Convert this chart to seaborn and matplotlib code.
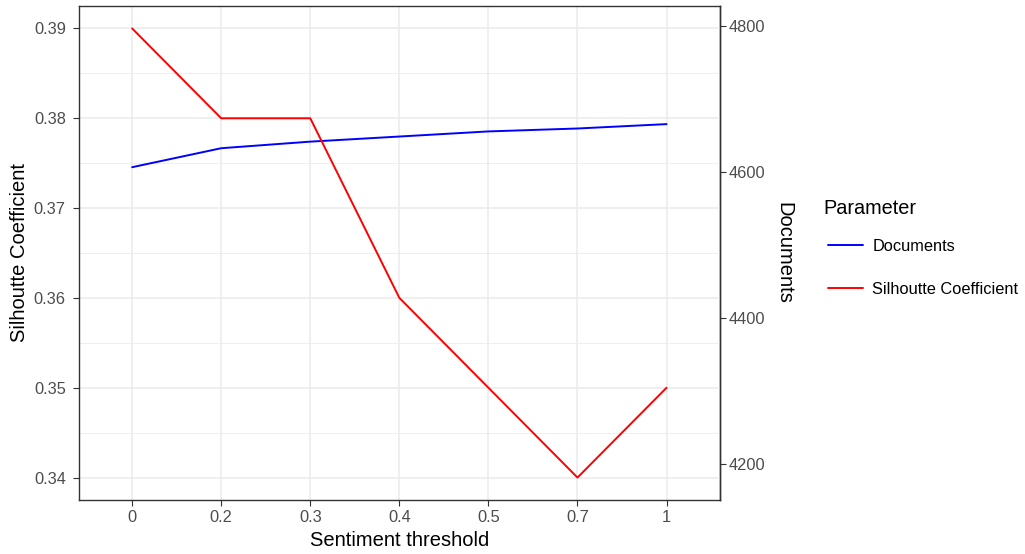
import seaborn as sns
import pandas as pd
import matplotlib.pyplot as plt
import numpy as np

# Data
thresholds = ["0", "0.2", "0.3", "0.4", "0.5", "0.7", "1"]
silhouette = [0.39, 0.38, 0.38, 0.36, 0.35, 0.34, 0.35]
documents = [4607, 4633, 4642, 4649, 4656, 4660, 4666]
doc_scale = 12300  # secondary axis: Documents = Silhouette * 12300

left_ticks = [0.34, 0.35, 0.36, 0.37, 0.38, 0.39]
right_ticks = [4200, 4400, 4600, 4800]

df = pd.DataFrame({
    "pos": list(range(len(thresholds))) * 2,
    "value": [d / doc_scale for d in documents] + silhouette,
    "Parameter": ["Documents"] * len(thresholds) + ["Silhoutte Coefficient"] * len(thresholds),
})

sns.set_theme(style="white")
plt.rcParams['font.family'] = ['Liberation Sans', 'DejaVu Sans']
plt.rcParams['text.color'] = 'black'

W, H = 1025, 554
fig = plt.figure(figsize=(W / 100, H / 100), dpi=100)
ax = fig.add_axes([78.7 / W, 54 / H, (720 - 78.7) / W, (500 - 6) / H])

palette = {"Documents": "#0000FF", "Silhoutte Coefficient": "#FF0000"}
sns.lineplot(data=df, x="pos", y="value", hue="Parameter", palette=palette,
             linewidth=1.4, ax=ax, sort=False)

# grid like theme_bw
ax.set_axisbelow(True)
ax.set_yticks(left_ticks)
ax.set_yticks([t + 0.005 for t in left_ticks[:-1]], minor=True)
ax.set_xticks(range(len(thresholds)))
ax.set_xticklabels(thresholds)
ax.grid(which="major", color="#EBEBEB", linewidth=1.1)
ax.grid(which="minor", axis="y", color="#EBEBEB", linewidth=0.55)
ax.set_xlim(-0.6, len(thresholds) - 1 + 0.6)
ax.set_ylim(0.3375, 0.3925)
ax.set_yticklabels([f"{t:.2f}" for t in left_ticks])

for s in ax.spines.values():
    s.set_color("#333333")
    s.set_linewidth(1.0)

ax.tick_params(axis="both", which="major", length=4.3, width=0.8, color="#333333",
               labelcolor="#4D4D4D", labelsize=11.8)
ax.tick_params(axis="y", which="major", pad=5, left=True)
ax.tick_params(axis="x", which="major", pad=3, bottom=True)
ax.tick_params(which="minor", length=0)

ax.set_xlabel("Sentiment threshold", fontsize=14.5, color="black", va="top")
ax.xaxis.set_label_coords(0.5, -0.063)
ax.set_ylabel("Silhoutte Coefficient", fontsize=14.5, color="black")
ax.yaxis.set_label_coords(-0.0775, 0.5)

# secondary axis for documents
sec = ax.secondary_yaxis("right", functions=(lambda s: s * doc_scale, lambda d: d / doc_scale))
sec.set_yticks(right_ticks)
sec.tick_params(axis="y", length=4.3, width=0.8, color="#333333",
                labelcolor="#4D4D4D", labelsize=11.8, pad=2)
for s in sec.spines.values():
    s.set_color("#333333")
    s.set_linewidth(1.0)
fig.text(784 / W, 1 - 253 / H, "Documents", fontsize=14.5, rotation=270,
         ha="center", va="center", color="black")

# legend outside on the right (title drawn separately so spacing can match)
fig.text(823 / W, 1 - 208 / H, "Parameter", fontsize=14.3, ha="left", va="center",
         color="black")
handles, labels = ax.get_legend_handles_labels()
leg = ax.legend(handles, labels, loc="upper left",
                bbox_to_anchor=(820 / W, 1 - 231 / H), bbox_transform=fig.transFigure,
                frameon=False, borderpad=0, fontsize=11.8,
                handlelength=2.1, handletextpad=0.6, labelspacing=1.7)
for t in leg.get_texts():
    t.set_color("black")

fig.savefig("out.png", dpi=100)
